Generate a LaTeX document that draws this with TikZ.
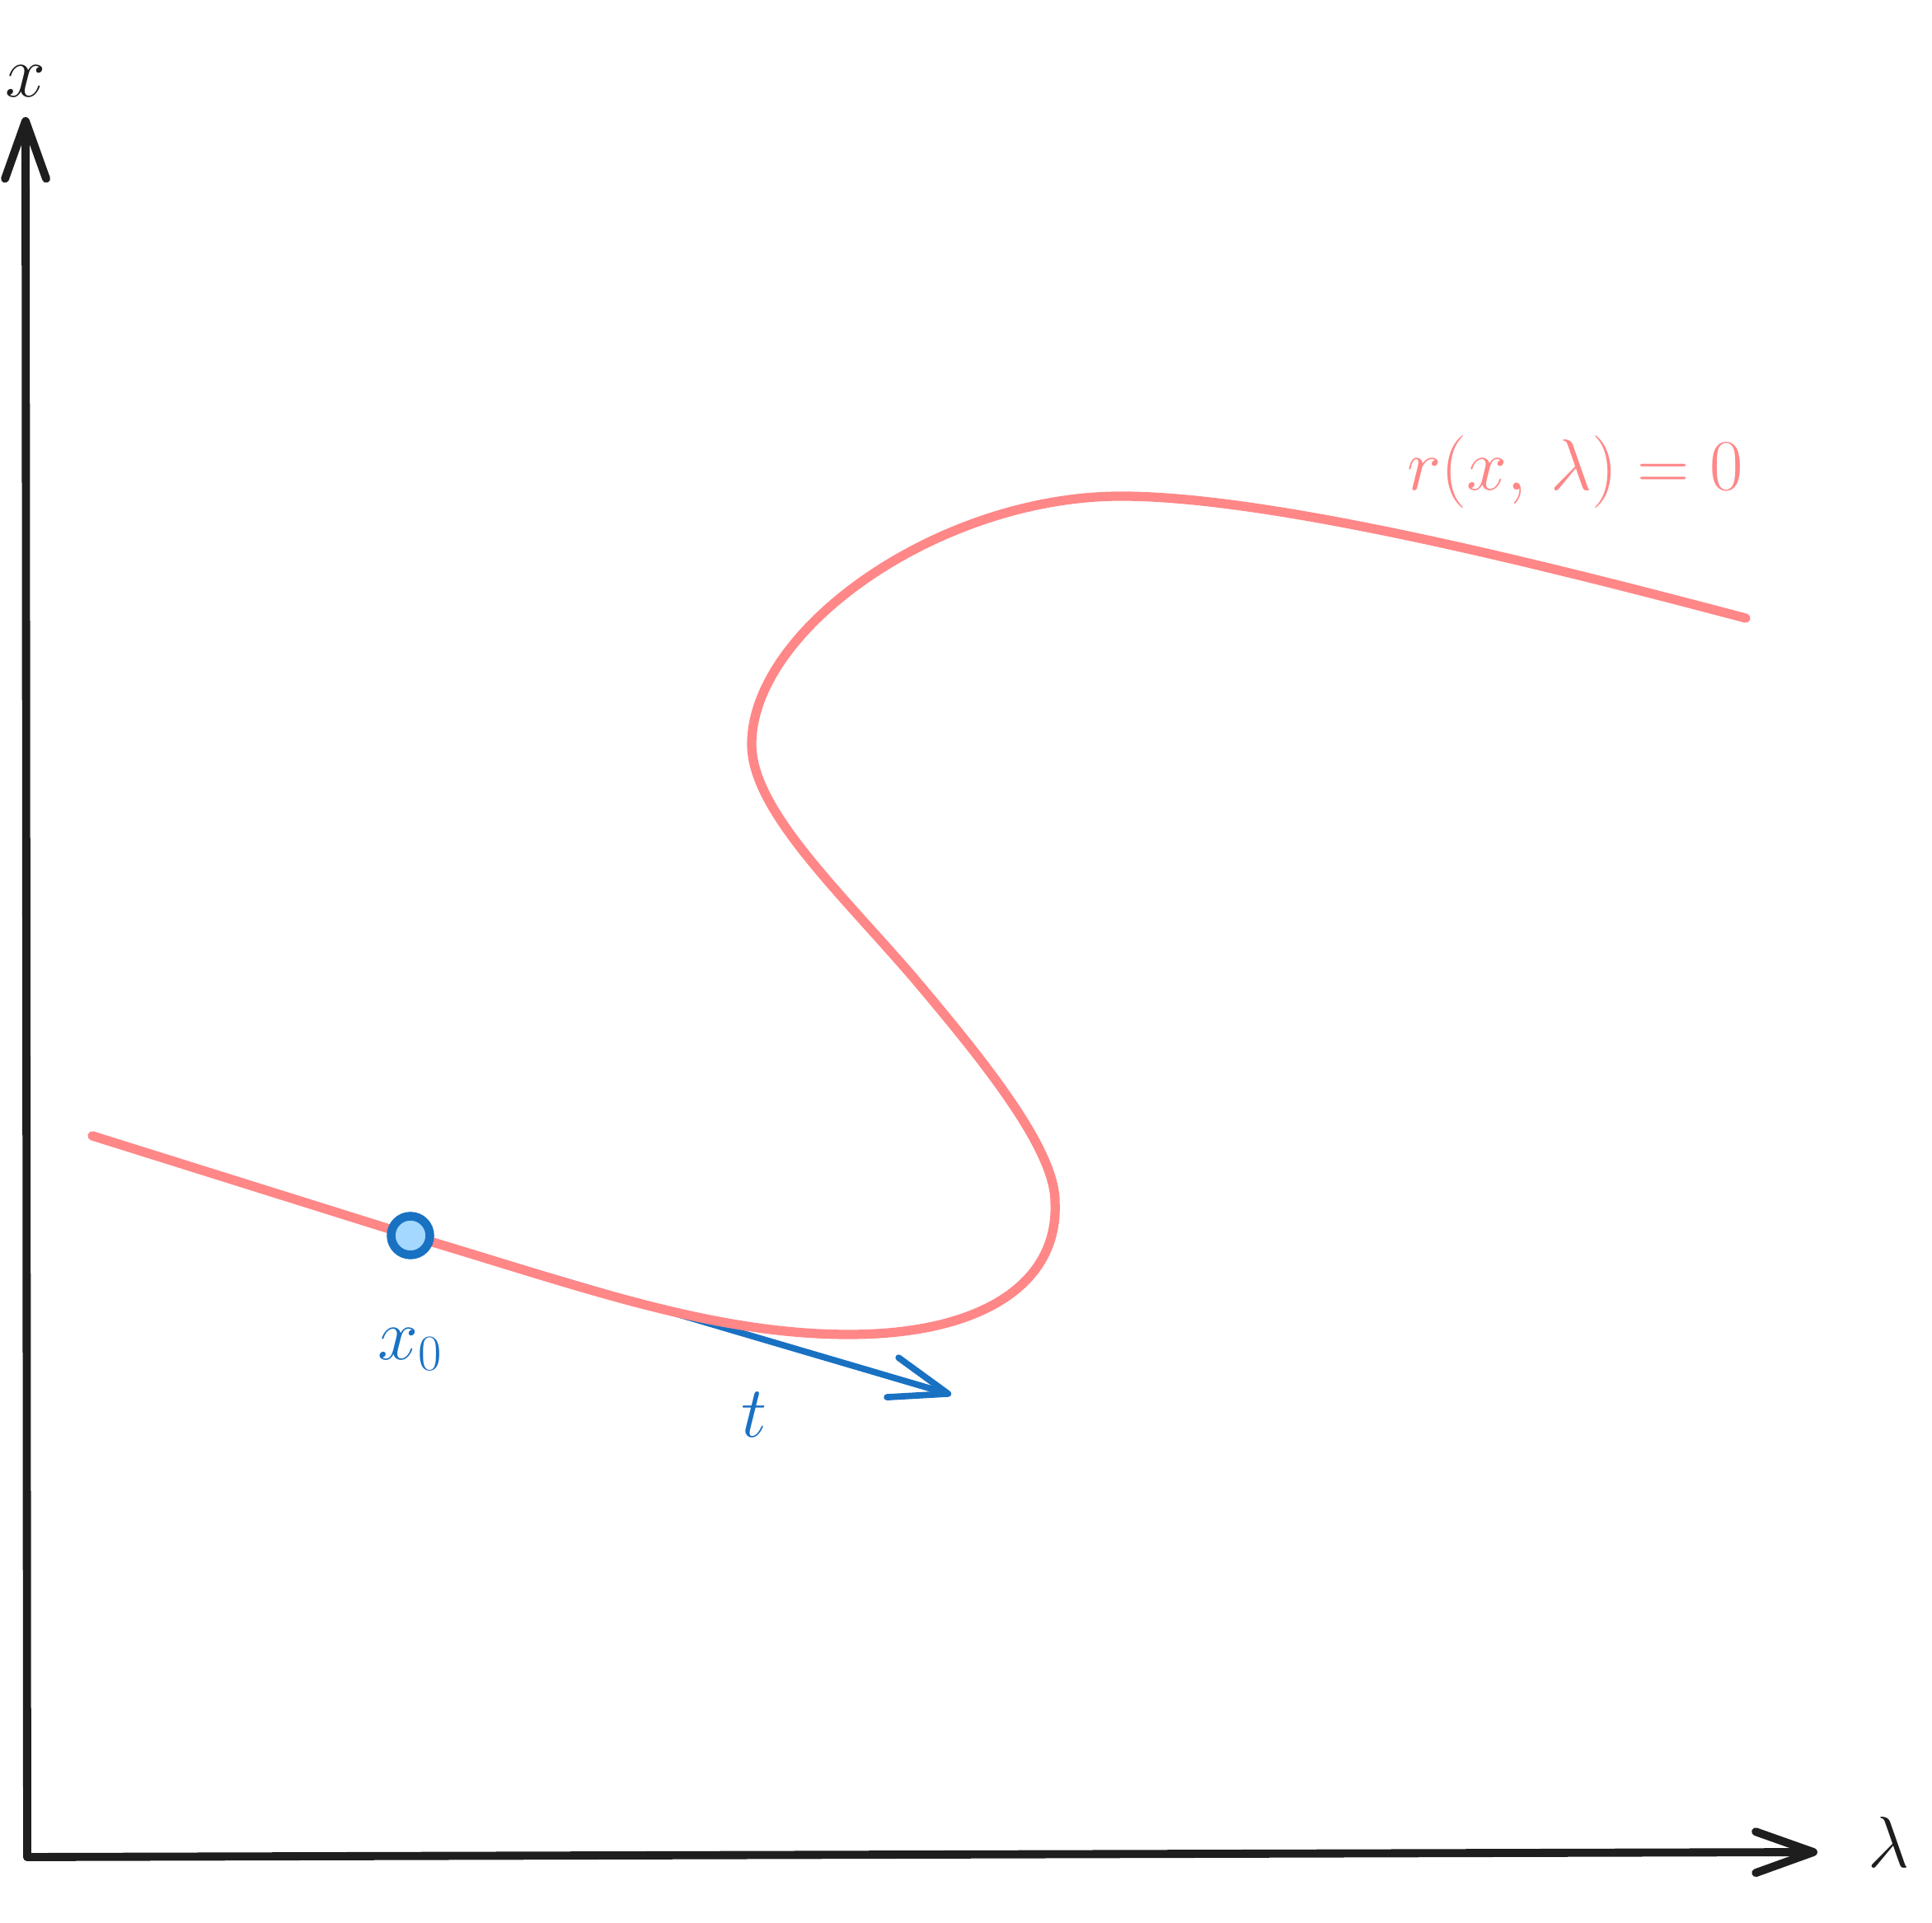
\RequirePackage{fix-cm}
\documentclass[tikz,border=0pt]{standalone}
\usepackage{amsmath}
\usepackage{tikz}
\usetikzlibrary{arrows.meta, positioning, backgrounds}

\definecolor{inkblack}{HTML}{1E1E1E}
\definecolor{curvepink}{HTML}{FF8787}
\definecolor{tanblue}{HTML}{1971C2}
\definecolor{ptfill}{HTML}{A5D8FF}

\begin{document}
\begin{tikzpicture}[font=\fontsize{25}{30}\selectfont,
  axis/.style={draw=inkblack, line width=2.8pt, line cap=round,
    -{Straight Barb[length=7mm, width=5mm, round]}},
  tangent/.style={draw=tanblue, line width=2.2pt, line cap=round,
    -{Straight Barb[length=7mm, width=5mm, round]}},
  curve/.style={draw=curvepink, line width=3.2pt, line cap=round},
  pt/.style={circle, draw=tanblue, fill=ptfill, line width=3pt, minimum size=4.7mm, inner sep=0pt},
  lbl/.style={inner sep=1pt}]
\useasboundingbox (0,0) rectangle (23.44,23.33);
% axes
\coordinate (O) at (0.33,0.80);
\coordinate (ytip) at (0.31,21.91);
\coordinate (xtip) at (22.05,0.86);
\draw[axis] (O) -- (ytip);
\draw[axis] (O) -- (xtip);
\node[lbl, text=inkblack, above=0.2cm of ytip] (xlab) {$x$};
\node[lbl, text=inkblack] (lamlab) at (22.92,0.98) {$\lambda$};
% starting point and tangent
\node[pt] (x0) at (4.98,8.34) {};
\coordinate (tend) at (11.54,6.41);
\node[lbl, text=tanblue, below=0.8cm of x0] (x0lab) {$x_0$};
\node[lbl, text=tanblue] (tlab) at (9.15,6.17) {$t$};
\begin{scope}[on background layer]
\draw[tangent] (x0) -- (tend);
% solution curve r(x,lambda)=0
\draw[curve] (1.12,9.55) -- (x0.center)
  .. controls (6.98,7.75) and (8.6,7.14) .. (10.3,7.14)
  .. controls (11.9,7.14) and (12.85,7.75) .. (12.8,8.75)
  .. controls (12.8,9.4) and (11.9,10.5) .. (11.1,11.45)
  .. controls (10.2,12.5) and (9.12,13.5) .. (9.12,14.3)
  .. controls (9.12,15.7) and (11.4,17.31) .. (13.6,17.31)
  .. controls (15.5,17.31) and (18.98,16.41) .. (21.18,15.83);
\end{scope}
\node[lbl, text=curvepink] (rlab) at (19.11,17.60) {$r(x,\,\lambda) = 0$};
\end{tikzpicture}
\end{document}
